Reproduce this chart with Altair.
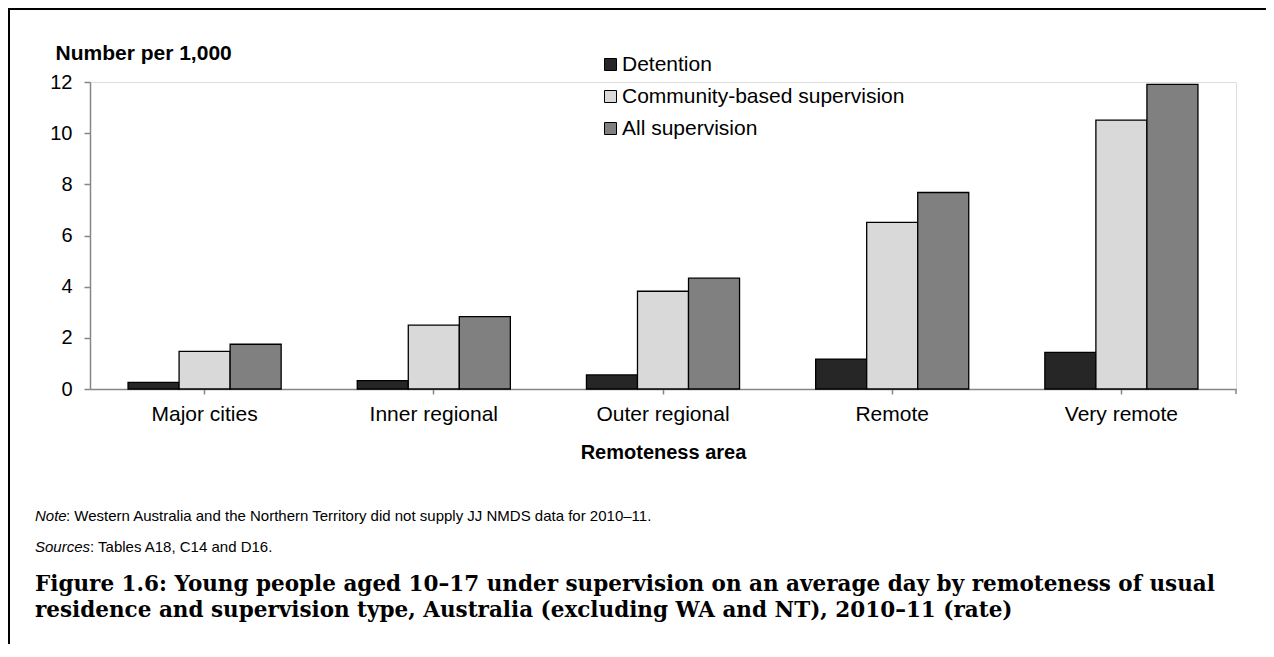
import altair as alt
import pandas as pd

regions = ["Major cities", "Inner regional", "Outer regional", "Remote", "Very remote"]
series = ["Detention", "Community-based supervision", "All supervision"]
detention = [0.26, 0.33, 0.55, 1.17, 1.43]
community = [1.47, 2.50, 3.82, 6.51, 10.51]
all_sup = [1.75, 2.83, 4.33, 7.68, 11.91]
colors = ["#262626", "#d9d9d9", "#808080"]
y_ticks = [0, 2, 4, 6, 8, 10, 12]

rows = []
for i, r in enumerate(regions):
    for s, vals in zip(series, [detention, community, all_sup]):
        rows.append({"region": r, "series": s, "value": vals[i]})
df = pd.DataFrame(rows)

W, H = 1146, 307
FONT = "Liberation Sans"

bars = alt.Chart(df).mark_bar(stroke="black", strokeWidth=1.3).encode(
    x=alt.X("region:N", sort=regions,
            scale=alt.Scale(paddingInner=0.332, paddingOuter=0.166),
            axis=alt.Axis(title="Remoteness area", labelAngle=0, labelFontSize=21,
                          labelFont=FONT, labelColor="black", labelPadding=9,
                          tickSize=5, tickColor="#868686", domainColor="#868686",
                          domainWidth=1.5, tickWidth=1.5,
                          titleFont=FONT, titleFontSize=20, titleFontWeight="bold",
                          titleColor="black", titleBaseline="alphabetic", titleY=69)),
    xOffset=alt.XOffset("series:N", sort=series, scale=alt.Scale(paddingInner=0, paddingOuter=0)),
    y=alt.Y("value:Q", scale=alt.Scale(domain=[0, 12], nice=False),
            axis=alt.Axis(title="Number per 1,000", values=y_ticks, grid=False,
                          labelFontSize=20, labelFont=FONT, labelColor="black",
                          labelPadding=12, tickSize=6, tickColor="#868686",
                          domainColor="#868686", domainWidth=1.5, tickWidth=1.5,
                          titleAngle=0, titleX=-35, titleY=-23, titleAlign="left",
                          titleBaseline="alphabetic", titleFont=FONT, titleFontSize=21,
                          titleFontWeight="bold", titleColor="black")),
    color=alt.Color("series:N", sort=series,
                    scale=alt.Scale(domain=series, range=colors),
                    legend=alt.Legend(title=None, orient="none", legendX=510, legendY=-28,
                                      symbolType="square", symbolSize=144,
                                      symbolStrokeColor="black", symbolStrokeWidth=1,
                                      labelFontSize=21, labelFont=FONT, labelColor="black",
                                      labelOffset=1, rowPadding=10, labelLimit=0)),
)

one = pd.DataFrame({"k": [0]})

end_tick = alt.Chart(one).mark_rule(color="#868686", strokeWidth=1.5).encode(
    x=alt.value(W), y=alt.value(H), y2=alt.value(H + 5))

border_top = alt.Chart(one).mark_rule(color="black", strokeWidth=2).encode(
    x=alt.value(-81), x2=alt.value(W + 30), y=alt.value(-73))
border_left = alt.Chart(one).mark_rule(color="black", strokeWidth=2).encode(
    x=alt.value(-81), y=alt.value(-74), y2=alt.value(H + 260))

NF = 15
note_it = alt.Chart(one).mark_text(align="left", baseline="middle", fontSize=NF,
                                   font=FONT, fontStyle="italic", color="black").encode(
    x=alt.value(-55), y=alt.value(434), text=alt.value("Note"))
note_rest = alt.Chart(one).mark_text(align="left", baseline="middle", fontSize=NF,
                                     font=FONT, color="black").encode(
    x=alt.value(-55 + 31), y=alt.value(434),
    text=alt.value(": Western Australia and the Northern Territory did not supply JJ NMDS data for 2010\u201311."))
src_it = alt.Chart(one).mark_text(align="left", baseline="middle", fontSize=NF,
                                  font=FONT, fontStyle="italic", color="black").encode(
    x=alt.value(-55), y=alt.value(465), text=alt.value("Sources"))
src_rest = alt.Chart(one).mark_text(align="left", baseline="middle", fontSize=NF,
                                    font=FONT, color="black").encode(
    x=alt.value(-55 + 55), y=alt.value(465), text=alt.value(": Tables A18, C14 and D16."))

CF = 21.5
cap1 = alt.Chart(one).mark_text(align="left", baseline="middle", fontSize=CF,
                                font="DejaVu Serif", fontWeight="bold", color="black").encode(
    x=alt.value(-55), y=alt.value(503),
    text=alt.value("Figure 1.6: Young people aged 10\u201317 under supervision on an average day by remoteness of usual"))
cap2 = alt.Chart(one).mark_text(align="left", baseline="middle", fontSize=CF,
                                font="DejaVu Serif", fontWeight="bold", color="black").encode(
    x=alt.value(-55), y=alt.value(529),
    text=alt.value("residence and supervision type, Australia (excluding WA and NT), 2010\u201311 (rate)"))

chart = alt.layer(bars, end_tick, border_top, border_left, note_it, note_rest,
                  src_it, src_rest, cap1, cap2).properties(
    width=W, height=H,
    autosize=alt.AutoSizeParams(type="none"),
    padding={"left": 82, "top": 74, "right": 30, "bottom": 255},
).configure_view(stroke=None).configure(background="white")

chart.save("out.html", embed_options={"renderer": "svg", "actions": False})
